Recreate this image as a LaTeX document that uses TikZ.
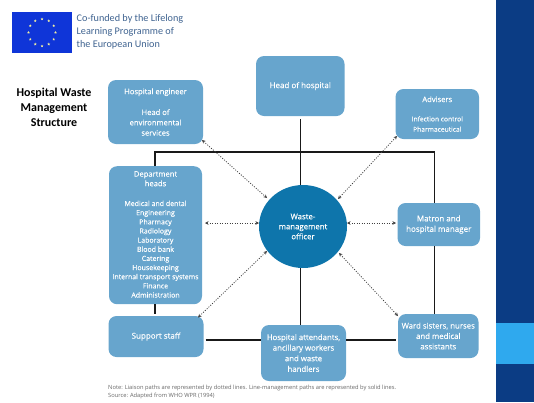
\documentclass[tikz,border=0pt]{standalone}
\usepackage{fontspec}
\setmainfont[FakeBold=0.25]{Open Sans}
\AtBeginDocument{\addfontfeatures{FakeBold=0.25}}
\newfontfamily\titlefont{Carlito}
\newfontfamily\notefont{Open Sans}
\usetikzlibrary{shapes.geometric,arrows.meta,calc}
\definecolor{boxblue}{HTML}{67A5CD}
\definecolor{circblue}{HTML}{0E75AB}
\definecolor{navy}{HTML}{0B3C84}
\definecolor{lightpanel}{HTML}{2FA9EE}
\definecolor{eublue}{HTML}{0F35D8}
\definecolor{eutext}{HTML}{3F6390}
\definecolor{notegray}{HTML}{666666}
\definecolor{starcol}{HTML}{F2EFA0}
\tikzset{
  box/.style={fill=boxblue,rounded corners=8pt,inner sep=0pt,text=white,align=center,font=\fontsize{7.6}{10.3}\selectfont},
  solidline/.style={line width=1.1pt,black!90},
  liaison/.style={dash pattern=on 1pt off 1.5pt,line width=0.8pt,black!75,{Stealth[length=3.5pt,width=3.5pt]}-{Stealth[length=3.5pt,width=3.5pt]}},
  eustar/.style={star,star points=5,star point ratio=2.4,fill=starcol,inner sep=0pt,minimum size=3pt}
}
\begin{document}
\begin{tikzpicture}[x=1pt,y=-1pt]
\useasboundingbox (0,0) rectangle (534,402);
\fill[navy] (496,0) rectangle (534,402);
\fill[lightpanel] (496,323) rectangle (534,364);
% flag
\node[fill=eublue,minimum width=60pt,minimum height=41pt,inner sep=0pt] (flag) at (42,32.5) {};
\foreach \a in {0,30,...,330}{\node[eustar] at ($(42,32.5)+(\a:13.5)$) {};}
\node[anchor=north west,align=left,text=eutext,inner sep=0pt,font=\titlefont\fontsize{10.2}{12.9}\selectfont] (cofund) at (76.5,14) {Co-funded by the Lifelong\\Learning Programme of\\the European Union};
\node[align=center,inner sep=0pt,font=\titlefont\bfseries\fontsize{12}{14.8}\selectfont] (title) at (54,107.5) {Hospital Waste\\Management\\Structure};
% boxes
\node[box,minimum width=95pt,minimum height=64pt,text depth=0pt] (eng) at (155.5,112) {Hospital engineer\\[10.5pt]Head of\\environmental\\services};
\node[box,minimum width=88.5pt,minimum height=60pt,font=\fontsize{8}{10}\selectfont] (head) at (300.25,86) {Head of hospital};
\node[box,minimum width=83.5pt,minimum height=50pt] (adv) at (437.25,114) {Advisers\\[9pt]{\fontsize{6.7}{9}\selectfont Infection control}\\{\fontsize{6.7}{9}\selectfont Pharmaceutical}};
\node[box,minimum width=93pt,minimum height=138pt,anchor=north] (dept) at (155.5,166) {};
\node[anchor=north,align=center,text=white,inner sep=0pt,font=\fontsize{7.6}{9.6}\selectfont] (depttitle) at (155.5,171) {Department\\heads};
\node[anchor=north,align=center,text=white,inner sep=0pt,font=\fontsize{7}{9.15}\selectfont] (deptlist) at (155.5,200.5) {Medical and dental\\Engineering\\Pharmacy\\Radiology\\Laboratory\\Blood bank\\Catering\\Housekeeping\\Internal transport systems\\Finance\\Administration};
\node[box,minimum width=95pt,minimum height=41pt,font=\fontsize{8}{10}\selectfont] (support) at (156,336.5) {Support staff};
\node[box,minimum width=85pt,minimum height=56pt,font=\fontsize{7.8}{10.6}\selectfont] (att) at (303.5,353) {Hospital attendants,\\ancillary workers\\and waste\\handlers};
\node[box,minimum width=80.5pt,minimum height=44pt,font=\fontsize{7.8}{10.4}\selectfont] (ward) at (438.25,336) {Ward sisters, nurses\\and medical\\assistants};
\node[box,minimum width=82.5pt,minimum height=43pt,font=\fontsize{8}{10.4}\selectfont] (matron) at (438.75,224.5) {Matron and\\hospital manager};
\node[ellipse,fill=circblue,minimum width=88pt,minimum height=83pt,inner sep=0pt,text=white,align=center,font=\fontsize{7.8}{10}\selectfont] (wmo) at (303,226.5) {Waste-\\management\\officer};
% note
\node[anchor=north west,align=left,text=notegray,inner sep=0pt,font=\notefont\fontsize{5.75}{8}\selectfont] (note) at (108,384.5) {Note: Liaison paths are represented by dotted lines. Line-management paths are represented by solid lines.\\Source: Adapted from WHO WPR (1994)};
% free-end coordinates
\coordinate (headtop) at (300.7,119);
\coordinate (jc) at (300.7,152);
\coordinate (wmot) at (300.7,185);
\coordinate (jl) at (155,152);
\coordinate (jr) at (434.5,152);
\coordinate (deptlow) at (155,304);
\coordinate (supptop) at (155,314);
\coordinate (sr) at (205.5,340);
\coordinate (al) at (261,340);
\coordinate (ar) at (346,340);
\coordinate (wl) at (396,340);
\coordinate (wmob) at (300.7,268);
\coordinate (attt) at (300.7,325);
% solid lines
\draw[solidline] (headtop) -- (jc) -- (wmot);
\draw[solidline] (dept.north -| jl) -- (jl) -- (jr) -- (matron.north -| jr);
\draw[solidline] (matron.south -| jr) -- (ward.north -| jr);
\draw[solidline] (deptlow) -- (supptop);
\draw[solidline] (sr) -- (al);
\draw[solidline] (ar) -- (wl);
\draw[solidline] (wmob) -- (attt);
% liaison
\coordinate (e1) at (202,140);
\coordinate (c1) at (267,198);
\coordinate (a1) at (397,136);
\coordinate (c2) at (338,199);
\coordinate (d1) at (205,223);
\coordinate (c3) at (259,223);
\coordinate (c4) at (347,223);
\coordinate (m1) at (396,223);
\coordinate (s1) at (198,317.5);
\coordinate (c5) at (267,251);
\coordinate (c6) at (339,253);
\coordinate (w1) at (398,316);
\draw[liaison] (e1) -- (c1);
\draw[liaison] (a1) -- (c2);
\draw[liaison] (d1) -- (c3);
\draw[liaison] (c4) -- (m1);
\draw[liaison] (s1) -- (c5);
\draw[liaison] (c6) -- (w1);
\end{tikzpicture}
\end{document}
